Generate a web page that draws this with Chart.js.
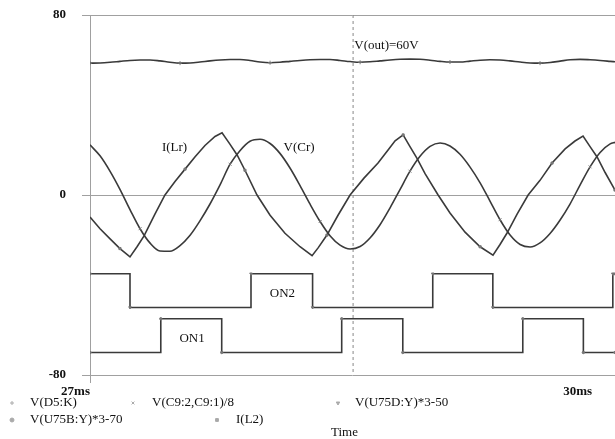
<!DOCTYPE html>
<html>
<head>
<meta charset="utf-8">
<script src="https://cdn.jsdelivr.net/npm/chart.js@4.4.1/dist/chart.umd.min.js"></script>
<style>
  html, body { margin: 0; padding: 0; background: #fff; }
  canvas { display: block; }
</style>
</head>
<body>
<canvas id="wave-chart" width="615" height="439"></canvas>
<script>
// sample times (ms) for the smooth traces
const timeMs = [27.000, 27.060, 27.120, 27.179, 27.239, 27.299, 27.359, 27.418, 27.478, 27.538,
  27.598, 27.657, 27.717, 27.777, 27.837, 27.896, 27.956, 28.016, 28.076, 28.135,
  28.195, 28.255, 28.315, 28.375, 28.434, 28.494, 28.554, 28.614, 28.673, 28.733,
  28.793, 28.853, 28.912, 28.972, 29.032, 29.092, 29.151, 29.211, 29.271, 29.331,
  29.390, 29.450, 29.510, 29.570, 29.630, 29.689, 29.749, 29.809, 29.869, 29.928,
  29.988, 30.048, 30.108, 30.137];

// V(out) ~ 60V with small ripple
const vOut = [58.6, 58.7, 59.0, 59.4, 59.8, 60.0, 60.0, 59.6, 59.0, 58.6,
  58.7, 59.1, 59.6, 60.0, 60.2, 60.2, 59.8, 59.1, 58.8, 59.0,
  59.4, 59.8, 60.1, 60.2, 60.2, 59.8, 59.3, 59.0, 59.2, 59.6,
  60.0, 60.3, 60.4, 60.3, 59.9, 59.4, 59.1, 59.1, 59.5, 59.9,
  60.1, 60.0, 59.6, 59.1, 58.7, 58.6, 58.9, 59.5, 60.1, 60.3,
  60.1, 59.8, 59.4, 59.2];

// V(Cr) = V(C9:2,C9:1)/8
const vCr = [22.3, 17.4, 10.5, 2.5, -6.5, -15.0, -21.4, -24.9, -25.0, -22.5,
  -17.9, -11.5, -4.0, 4.5, 13.7, 19.7, 23.9, 24.8, 22.9, 18.5,
  12.0, 4.2, -4.1, -11.8, -18.1, -22.3, -24.0, -22.9, -19.1, -13.2,
  -5.7, 2.5, 10.6, 17.2, 21.6, 23.1, 21.8, 18.1, 12.4, 5.4,
  -2.7, -11.0, -17.8, -22.0, -23.1, -21.3, -17.1, -11.1, -3.9, 4.4,
  12.5, 18.9, 22.7, 23.4];

// I(Lr) = I(L2), sharp corners at the switching instants
const iLrTime = [27.000, 27.060, 27.120, 27.179, 27.239, 27.281, 27.323, 27.388, 27.448, 27.508,
  27.568, 27.628, 27.687, 27.747, 27.789, 27.837, 27.879, 27.926, 27.998, 28.076,
  28.165, 28.255, 28.327, 28.363, 28.416, 28.482, 28.554, 28.637, 28.721, 28.781,
  28.823, 28.871, 28.912, 28.954, 29.002, 29.080, 29.151, 29.241, 29.331, 29.408,
  29.450, 29.492, 29.552, 29.618, 29.689, 29.761, 29.839, 29.898, 29.946, 29.988,
  30.030, 30.078, 30.137];
const iLr = [-9.8, -15.0, -19.5, -23.8, -27.5, -23.0, -18.2, -8.5, 0, 6.0,
  11.5, 17.0, 22.0, 26.0, 27.6, 22.5, 17.8, 11.0, 0, -9.0,
  -17.0, -23.0, -27.0, -23.5, -17.8, -9.0, 0, 7.5, 14.2, 20.0,
  24.1, 26.7, 21.5, 16.3, 9.5, 0, -8.0, -16.5, -23.0, -26.7,
  -22.0, -16.9, -8.5, 0, 6.5, 14.2, 20.5, 24.0, 26.2, 21.5,
  16.9, 10.0, 2.2];

// gate signals (value holds from each time on)
const on2Time = [27.000, 27.239, 27.962, 28.330, 29.048, 29.407, 30.124, 30.137];
const on2 = [-35, -50, -35, -50, -35, -50, -35, -35];
const on1Time = [27.000, 27.423, 27.787, 28.504, 28.869, 29.586, 29.948, 30.137];
const on1 = [-70, -55, -70, -55, -70, -55, -70, -70];

// cursor
const cursorTime = [28.572, 28.572];
const cursorLevel = [80, -80];

const xTicks = [27, 30];
const yTicks = [-80, 0, 80];
const legendLabels = ['V(D5:K)', 'V(C9:2,C9:1)/8', 'V(U75D:Y)*3-50', 'V(U75B:Y)*3-70', 'I(L2)'];

// text placed in the plot (time in ms, value)
const notes = [
  { text: 'V(out)=60V', t: 28.772, v: 66.2 },
  { text: 'I(Lr)', t: 27.505, v: 20.9 },
  { text: 'V(Cr)', t: 28.249, v: 20.9 },
  { text: 'ON2', t: 28.150, v: -44.0 },
  { text: 'ON1', t: 27.610, v: -63.6 }
];

// where the legend entries sit (pixels)
const legendSlots = [
  { mx: 12, tx: 30, y: 403 },
  { mx: 133, tx: 152, y: 403 },
  { mx: 338, tx: 355, y: 403 },
  { mx: 12, tx: 30, y: 420 },
  { mx: 217, tx: 236, y: 420 }
];

const traceColor = '#3a3a3a';
const gridColor = '#a0a0a0';
const serif = '"Liberation Serif", "Times New Roman", serif';

function toPoints(xs, ys) {
    return xs.map((x, i) => ({ x: x, y: ys[i] }));
}

function every(n, offset, r) {
    return ctx => (ctx.dataIndex % n === offset ? r : 0);
}

function trace(label, data, style, extra) {
    return Object.assign({
        label: label,
        data: data,
        borderColor: traceColor,
        borderWidth: 1.6,
        pointStyle: style,
        pointBorderColor: '#777',
        pointBackgroundColor: '#777',
        pointBorderWidth: 1,
        pointRadius: 0,
        fill: false
    }, extra);
}

const overlayPlugin = {
    id: 'overlay',
    afterDraw(chart) {
        const ctx = chart.ctx;
        const xs = chart.scales.x;
        const ys = chart.scales.y;
        ctx.save();
        ctx.fillStyle = '#111';
        ctx.font = '13px ' + serif;
        ctx.textAlign = 'center';
        ctx.textBaseline = 'middle';
        notes.forEach(n => {
            ctx.fillText(n.text, xs.getPixelForValue(n.t), ys.getPixelForValue(n.v));
        });

        // legend
        legendSlots.forEach((slot, i) => {
            const ds = chart.data.datasets[i];
            ctx.strokeStyle = '#aaa';
            ctx.fillStyle = '#aaa';
            ctx.lineWidth = 1;
            Chart.helpers.drawPoint(ctx, {
                pointStyle: ds.pointStyle,
                radius: 2,
                rotation: ds.pointRotation || 0,
                borderWidth: 1
            }, slot.mx, slot.y);
            ctx.fillStyle = '#111';
            ctx.textAlign = 'left';
            ctx.fillText(legendLabels[i], slot.tx, slot.y);
        });
        ctx.textAlign = 'left';
        ctx.fillText('Time', 331, 433);
        ctx.restore();
    }
};

let ctx = document.getElementById('wave-chart').getContext('2d');
new Chart(ctx, {
    type: 'line',
    data: {
        datasets: [
            trace(legendLabels[0], toPoints(timeMs, vOut), 'cross',
                { cubicInterpolationMode: 'monotone', pointRadius: every(9, 0, 2) }),
            trace(legendLabels[1], toPoints(timeMs, vCr), 'crossRot',
                { cubicInterpolationMode: 'monotone', pointRadius: every(9, 5, 2) }),
            trace(legendLabels[2], toPoints(on2Time, on2), 'triangle',
                { stepped: 'before', pointRotation: 180, pointRadius: 1.5 }),
            trace(legendLabels[3], toPoints(on1Time, on1), 'circle',
                { stepped: 'before', pointRadius: 1.2 }),
            trace(legendLabels[4], toPoints(iLrTime, iLr), 'rect',
                { tension: 0, pointRadius: every(7, 3, 1.5) }),
            {
                label: 'cursor',
                data: toPoints(cursorTime, cursorLevel),
                borderColor: '#888',
                borderWidth: 1,
                borderDash: [3, 3],
                pointRadius: 0
            }
        ]
    },
    options: {
        responsive: false,
        animation: false,
        layout: { autoPadding: false, padding: { top: 15, right: 0, bottom: 0, left: 0 } },
        plugins: {
            legend: { display: false },
            tooltip: { enabled: false }
        },
        scales: {
            x: {
                type: 'linear',
                min: 27,
                max: 30.137,
                afterBuildTicks: s => { s.ticks = xTicks.map(v => ({ value: v })); },
                afterFit: s => { s.height = 64; },
                ticks: {
                    callback: v => v + 'ms',
                    align: 'end',
                    autoSkip: false,
                    maxRotation: 0,
                    padding: 1,
                    color: '#111',
                    font: { family: serif, size: 13, weight: 'bold' }
                },
                grid: {
                    color: c => (c.tick && c.tick.value === 27 ? gridColor : 'rgba(0,0,0,0)'),
                    tickLength: 8,
                    lineWidth: 1
                },
                border: { display: false }
            },
            y: {
                min: -80,
                max: 80,
                afterBuildTicks: s => { s.ticks = yTicks.map(v => ({ value: v })); },
                afterFit: s => { s.width = 90; s.paddingTop = 0; s.paddingBottom = 0; },
                ticks: {
                    padding: 16,
                    color: '#111',
                    font: { family: serif, size: 13, weight: 'bold' }
                },
                grid: { color: gridColor, tickLength: 8, lineWidth: 1 },
                border: { display: false }
            }
        }
    },
    plugins: [overlayPlugin]
});
</script>
</body>
</html>
